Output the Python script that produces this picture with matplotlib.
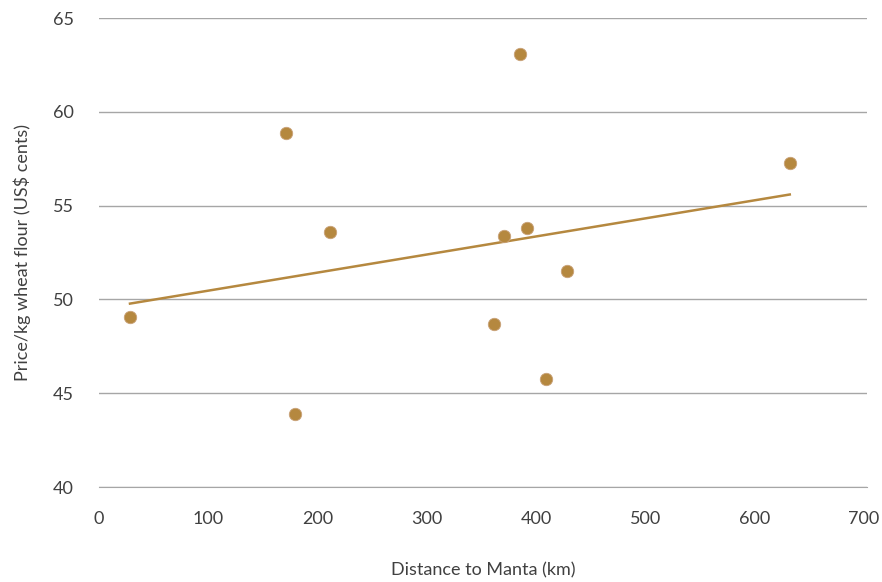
import numpy as np
import matplotlib.pyplot as plt

# distance to Manta (km) and price of wheat flour (US cents / kg)
distance = [28.4, 171.1, 179.3, 211.4, 361.4, 370.6, 385.2, 391.6, 409.0, 428.2, 632.3]
price = [49.06, 58.87, 43.89, 53.59, 48.69, 53.38, 63.08, 53.81, 45.76, 51.51, 57.27]

x_ticks = [0, 100, 200, 300, 400, 500, 600, 700]
y_ticks = [40, 45, 50, 55, 60, 65]

gold = "#B5883F"
text_col = "#404040"

plt.rcParams["font.family"] = ["Lato", "DejaVu Sans"]

fig = plt.figure(figsize=(8.82, 5.82), dpi=100)
ax = fig.add_axes([0.1122, 0.1632, 0.8708, 0.8058])

ax.scatter(distance, price, s=80, color=gold, edgecolors="#C9A27A",
           linewidths=0.6, zorder=3)

# linear trend line
coef = np.polyfit(distance, price, 1)
xs = np.array([min(distance), max(distance)])
ax.plot(xs, np.polyval(coef, xs), color=gold, lw=1.8, zorder=2)

ax.set_xlim(0, 703)
ax.set_ylim(40, 65)
ax.set_xticks(x_ticks)
ax.set_yticks(y_ticks)
ax.yaxis.grid(True, color="#A6A6A6", lw=1)
ax.set_axisbelow(True)
for s in ["top", "right", "left"]:
    ax.spines[s].set_visible(False)
ax.spines["bottom"].set_color("#A6A6A6")
ax.tick_params(axis="both", length=0, labelsize=13, colors=text_col)
ax.tick_params(axis="x", pad=17)
ax.tick_params(axis="y", pad=18)

ax.set_xlabel("Distance to Manta (km)", fontsize=13, color=text_col, labelpad=26)
ax.set_ylabel("Price/kg wheat flour (US$ cents)", fontsize=13, color=text_col, labelpad=16)

fig.savefig("out.png", dpi=100)
